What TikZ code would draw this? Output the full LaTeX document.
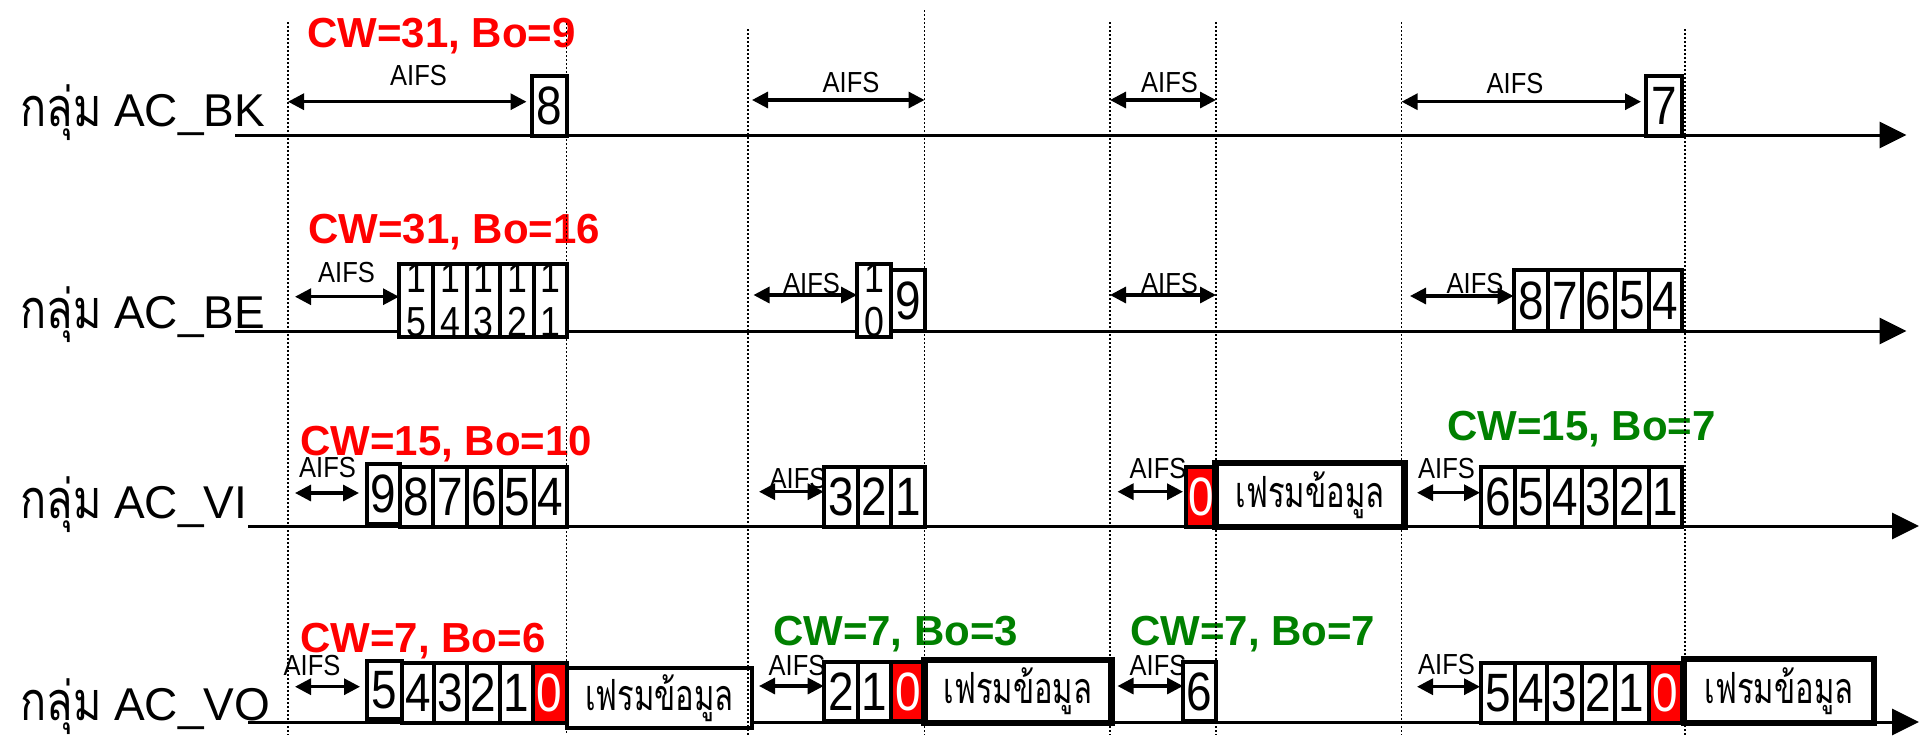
\documentclass[tikz,border=0pt]{standalone}
\usepackage{fontspec}
\setmainfont{Liberation Sans}
\newfontfamily\narrowfont[FakeStretch=0.85]{Liberation Sans}
\newfontfamily\aifsfont[FakeStretch=0.88]{Liberation Sans}
\newfontfamily\thaitall[Script=Thai,FakeStretch=0.8]{Loma}
\newfontfamily\thainarrow[Script=Thai,FakeStretch=0.72]{Loma}
\usetikzlibrary{arrows.meta}
\definecolor{cwred}{RGB}{255,0,0}
\definecolor{cwgreen}{RGB}{0,128,0}
\tikzset{
  digitbox/.style={draw, line width=2pt, inner sep=0pt, outer sep=0pt, fill=white, font=\narrowfont\fontsize{27}{30}\selectfont},
  redbox/.style={digitbox, fill=cwred, text=white},
  twobox/.style={digitbox, font=\narrowfont\fontsize{21}{22}\selectfont, align=center},
  dataframe/.style={draw, line width=3.25pt, inner sep=0pt, outer sep=0pt, fill=white, font=\thainarrow\fontsize{21.5}{22}\selectfont},
  thinframe/.style={dataframe, line width=2pt},
  aifs/.style={line width=1.6pt, {Triangle[length=8pt,width=8pt]}-{Triangle[length=8pt,width=8pt]}},
  aifslbl/.style={font=\aifsfont\fontsize{14.5}{16}\selectfont, inner sep=0pt, anchor=base},
  cwlbl/.style={font=\bfseries\fontsize{21}{24}\selectfont, inner sep=0pt, anchor=base west},
  timeline/.style={line width=1.5pt, -{Triangle[length=13.5pt,width=13pt]}},
  guide/.style={line width=0.75pt, dash pattern=on 0.75pt off 1.25pt},
  grp/.style={font=\fontsize{23}{26}\selectfont, inner sep=0pt, anchor=base west},
}
\newcommand\bx[7]{\node[#6, minimum width={(#4-#2)*0.5pt}, minimum height={(#5-#3)*0.5pt}] (#1) at ({(#2+#4)/2},{(#3+#5)/2}) {#7};}
\newcommand\aifsmark[6]{\coordinate (#1s) at (#2,#4); \coordinate (#1e) at (#3,#4); \draw[aifs] (#1s) -- (#1e); \node[aifslbl] (#1t) at (#5,#6) {AIFS};}
\newcommand\guideline[3]{\coordinate (#1t) at (#2,#3); \coordinate (#1b) at (#2,735); \draw[guide] (#1t) -- (#1b);}
\newcommand\grptxt[1]{\smash{{\thaitall\fontsize{27}{28}\selectfont กลุ่ม} AC\_#1}}
\begin{document}
\begin{tikzpicture}[x=0.5pt,y=-0.5pt]
\useasboundingbox (0,0) rectangle (1920,735);
\fill[white] (0,0) rectangle (1920,735);

% ---------- AC_BK ----------
\node[grp] (lblBK) at (20,126) {\grptxt{BK}};
\coordinate (bkS) at (235,135); \coordinate (bkE) at (1906.5,135);
\draw[timeline] (bkS) -- (bkE);
\node[cwlbl, text=cwred] (cwBK) at (307,47) {CW=31, Bo=9};
\aifsmark{bkA}{288}{526.5}{101.7}{418.5}{85}
\aifsmark{bkB}{752}{924.5}{100}{851}{92}
\aifsmark{bkC}{1110}{1216}{100}{1169.5}{92}
\aifsmark{bkD}{1401.6}{1641}{101.7}{1515}{93}
\bx{bk8}{532}{76}{567}{136}{digitbox}{8}
\bx{bk7}{1646}{76}{1682}{136}{digitbox}{7}

% ---------- AC_BE ----------
\node[grp] (lblBE) at (20,328) {\grptxt{BE}};
\coordinate (beS) at (235,331); \coordinate (beE) at (1906.5,331);
\draw[timeline] (beS) -- (beE);
\node[cwlbl, text=cwred] (cwBE) at (308,243) {CW=31, Bo=16};
\aifsmark{beA}{295}{399}{296.7}{346.5}{282}
\aifsmark{beB}{753.5}{857}{295}{811.5}{293}
\aifsmark{beC}{1110}{1216}{295}{1169.5}{293}
\aifsmark{beD}{1410}{1513.5}{296}{1475}{293}
\bx{be15}{399}{270}{433}{331}{twobox}{1\\5}
\bx{be14}{433}{270}{467}{331}{twobox}{1\\4}
\bx{be13}{467}{270}{500}{331}{twobox}{1\\3}
\bx{be12}{500}{270}{534}{331}{twobox}{1\\2}
\bx{be11}{534}{270}{567}{331}{twobox}{1\\1}
\bx{be10}{857}{270}{891}{331}{twobox}{1\\0}
\bx{be9}{891}{270}{925}{331}{digitbox}{9}
\bx{beh8}{1513.5}{270}{1548}{331}{digitbox}{8}
\bx{beh7}{1548}{270}{1582}{331}{digitbox}{7}
\bx{beh6}{1582}{270}{1615}{331}{digitbox}{6}
\bx{beh5}{1615}{270}{1648.5}{331}{digitbox}{5}
\bx{beh4}{1648.5}{270}{1682}{331}{digitbox}{4}

% ---------- AC_VI ----------
\node[grp] (lblVI) at (20,518) {\grptxt{VI}};
\coordinate (viS) at (248,526); \coordinate (viE) at (1919,526);
\draw[timeline] (viS) -- (viE);
\node[cwlbl, text=cwred] (cwVIa) at (300,455) {CW=15, Bo=10};
\node[cwlbl, text=cwgreen] (cwVIb) at (1447,440) {CW=15, Bo=7};
\aifsmark{viA}{295}{359}{493}{327.5}{477}
\aifsmark{viB}{759}{823.7}{491.7}{798}{488}
\aifsmark{viC}{1117.5}{1183}{491.7}{1158}{478}
\aifsmark{viD}{1417}{1480}{492.7}{1446.5}{478}
\bx{vi9}{367}{464}{400}{524}{digitbox}{9}
\bx{vi8}{400}{467}{433}{527}{digitbox}{8}
\bx{vi7}{433}{467}{467}{527}{digitbox}{7}
\bx{vi6}{467}{467}{501}{527}{digitbox}{6}
\bx{vi5}{501}{467}{534}{527}{digitbox}{5}
\bx{vi4}{534}{467}{567}{527}{digitbox}{4}
\bx{vi3}{823.7}{467}{858}{527}{digitbox}{3}
\bx{vi2}{858}{467}{891}{527}{digitbox}{2}
\bx{vi1}{891}{467}{925}{527}{digitbox}{1}
\bx{vi0}{1186}{467}{1215.5}{527}{redbox}{0}
\bx{viF}{1215.5}{463}{1404.5}{527}{dataframe}{เฟรมข้อมูล}
\bx{vij6}{1481}{467}{1514.5}{527}{digitbox}{6}
\bx{vij5}{1514.5}{467}{1548}{527}{digitbox}{5}
\bx{vij4}{1548}{467}{1581.5}{527}{digitbox}{4}
\bx{vij3}{1581.5}{467}{1615}{527}{digitbox}{3}
\bx{vij2}{1615}{467}{1648.5}{527}{digitbox}{2}
\bx{vij1}{1648.5}{467}{1682}{527}{digitbox}{1}

% ---------- AC_VO ----------
\node[grp] (lblVO) at (20,720) {\grptxt{VO}};
\coordinate (voS) at (248,722); \coordinate (voE) at (1919,722);
\draw[timeline] (voS) -- (voE);
\node[cwlbl, text=cwred] (cwVOa) at (300,652) {CW=7, Bo=6};
\node[cwlbl, text=cwgreen] (cwVOb) at (772.7,645) {CW=7, Bo=3};
\node[cwlbl, text=cwgreen] (cwVOc) at (1129.8,645) {CW=7, Bo=7};
\aifsmark{voA}{295}{360}{686.7}{312}{675}
\aifsmark{voB}{759}{823.7}{686}{797}{675}
\aifsmark{voC}{1117.5}{1183}{686}{1158}{675}
\aifsmark{voD}{1417}{1480}{686.7}{1446.5}{674}
\bx{vo5}{367}{661}{402}{719}{digitbox}{5}
\bx{vo4}{402}{663}{434}{723}{digitbox}{4}
\bx{vo3}{434}{663}{467}{723}{digitbox}{3}
\bx{vo2}{467}{663}{500}{723}{digitbox}{2}
\bx{vo1}{500}{663}{533}{723}{digitbox}{1}
\bx{vo0}{533}{663}{566.5}{723}{redbox}{0}
\bx{voF1}{567}{668}{752}{728}{thinframe}{เฟรมข้อมูล}
\bx{vok2}{823.7}{662}{858}{721}{digitbox}{2}
\bx{vok1}{858}{662}{891}{721}{digitbox}{1}
\bx{vok0}{891}{662}{924.5}{721}{redbox}{0}
\bx{voF2}{924.5}{660}{1111.4}{723}{dataframe}{เฟรมข้อมูล}
\bx{vom6}{1183}{662}{1216}{721}{digitbox}{6}
\bx{von5}{1481}{663}{1514.7}{723}{digitbox}{5}
\bx{von4}{1514.7}{663}{1547}{723}{digitbox}{4}
\bx{von3}{1547}{663}{1582}{723}{digitbox}{3}
\bx{von2}{1582}{663}{1614.7}{723}{digitbox}{2}
\bx{von1}{1614.7}{663}{1648.6}{723}{digitbox}{1}
\bx{von0}{1648.6}{663}{1682}{723}{redbox}{0}
\bx{voF3}{1684}{659}{1874}{723}{dataframe}{เฟรมข้อมูล}

% ---------- dotted guides ----------
\guideline{gA}{288}{22}
\guideline{gB}{566.5}{23}
\guideline{gC}{748}{29}
\guideline{gD}{924.5}{10}
\guideline{gE}{1110}{22}
\guideline{gF}{1216}{22}
\guideline{gG}{1401.6}{22}
\guideline{gH}{1685}{29}
\end{tikzpicture}
\end{document}
